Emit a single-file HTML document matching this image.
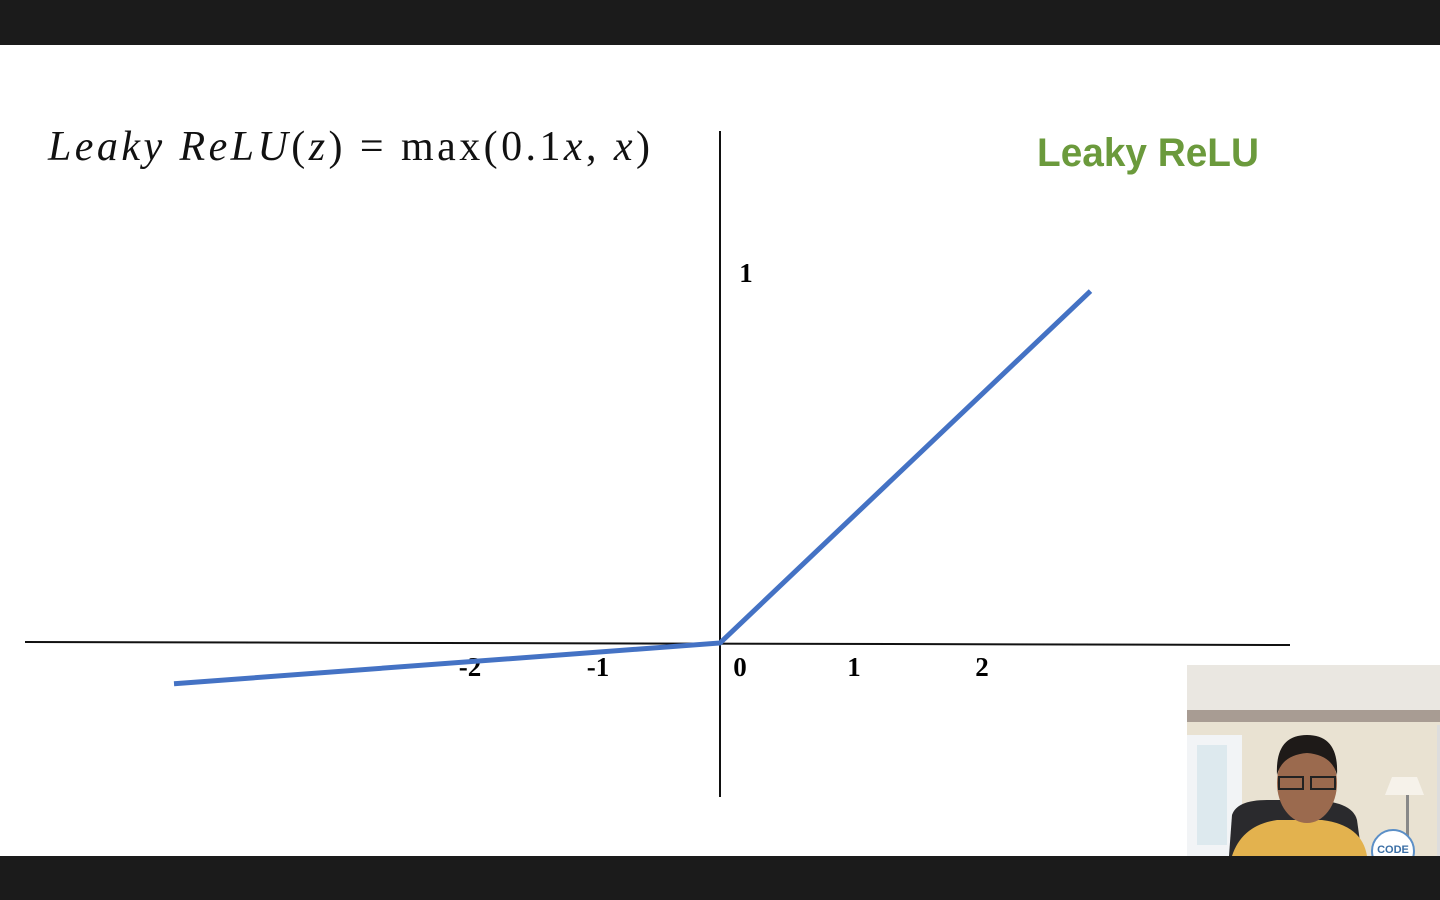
<!DOCTYPE html>
<html><head><meta charset="utf-8"><style>
html,body{margin:0;padding:0;width:1440px;height:900px;overflow:hidden;background:#fff;}
.bar{position:absolute;left:0;width:1440px;background:#1b1b1b;}
</style></head><body>
<div class="bar" style="top:0;height:45px"></div>
<div class="bar" style="top:856px;height:44px"></div>
<svg id="chart" width="1440" height="900" style="position:absolute;left:0;top:0">
  <text x="48" y="160" font-family="Liberation Serif, serif" font-size="42" fill="#111" textLength="602" lengthAdjust="spacing"><tspan font-style="italic">Leaky ReLU</tspan>(<tspan font-style="italic">z</tspan>) = max(0.1<tspan font-style="italic">x</tspan>, <tspan font-style="italic">x</tspan>)</text>
  <text x="1037" y="166" font-family="Liberation Sans, sans-serif" font-size="40" font-weight="bold" fill="#6b9a3c" textLength="222" lengthAdjust="spacingAndGlyphs">Leaky ReLU</text>
  <line x1="25" y1="642" x2="1290" y2="645" stroke="#111" stroke-width="2"/>
  <line x1="720" y1="131" x2="720" y2="797" stroke="#111" stroke-width="2"/>
  <g id="ticks"></g>
  <polyline id="series" fill="none" stroke="#4472c4" stroke-width="5"/>
</svg>
<svg width="253" height="191" style="position:absolute;left:1187px;top:665px">
  <rect width="253" height="191" fill="#e9e2d2"/>
  <rect width="253" height="45" fill="#eae7e1"/>
  <rect y="45" width="253" height="12" fill="#a89c93"/>
  <rect x="0" y="70" width="55" height="121" fill="#f2f4f6"/>
  <rect x="10" y="80" width="30" height="100" fill="#dde9ee"/>
  <rect x="250" y="60" width="3" height="131" fill="#ddd"/>
  <path d="M205 112 L230 112 L237 130 L198 130 Z" fill="#f6f2ea"/>
  <rect x="219" y="130" width="3" height="61" fill="#888"/>
  <path d="M45 150 Q50 135 80 135 L120 135 Q165 135 170 155 L175 191 L42 191 Z" fill="#2a2a2d"/>
  <path d="M45 191 Q55 160 90 155 L135 155 Q175 160 180 191 Z" fill="#e3b24e"/>
  <ellipse cx="120" cy="118" rx="30" ry="40" fill="#9b6a4e"/>
  <path d="M90 110 Q88 70 120 70 Q152 70 150 110 Q145 90 120 88 Q95 90 90 110Z" fill="#1e1a18"/>
  <rect x="92" y="112" width="24" height="12" fill="none" stroke="#222" stroke-width="2"/>
  <rect x="124" y="112" width="24" height="12" fill="none" stroke="#222" stroke-width="2"/>
  <circle cx="206" cy="186" r="21" fill="#fff" stroke="#5b8fc7" stroke-width="2"/>
  <text x="206" y="188" font-family="Liberation Sans, sans-serif" font-size="11" font-weight="bold" fill="#3a6ea5" text-anchor="middle">CODE</text>
</svg>
<script>
const xTicks = [-2, -1, 0, 1, 2];
const yTicks = [1];
const xs = [-4.2, 0, 2.85];
const ys = [-0.33, 0, 2.85];
function sx(v){ return 720 + v * 130; }
function sy(v){ return 643 - v * 123.5; }
const NS = 'http://www.w3.org/2000/svg';
const tg = document.getElementById('ticks');
xTicks.forEach(t => {
  const el = document.createElementNS(NS, 'text');
  
  
  el.setAttribute('x', t === 0 ? 740 : sx(t) + 6 - t * 2);
  el.setAttribute('y', 676);
  el.setAttribute('text-anchor', 'middle');
  el.setAttribute('font-family', 'Liberation Serif, serif');
  el.setAttribute('font-weight', 'bold');
  el.setAttribute('font-size', '27');
  el.textContent = String(t);
  tg.appendChild(el);
});
yTicks.forEach(t => {
  const el = document.createElementNS(NS, 'text');
  
  
  el.setAttribute('x', 746);
  el.setAttribute('y', 282);
  el.setAttribute('text-anchor', 'middle');
  el.setAttribute('font-family', 'Liberation Serif, serif');
  el.setAttribute('font-weight', 'bold');
  el.setAttribute('font-size', '27');
  el.textContent = String(t);
  tg.appendChild(el);
});
document.getElementById('series').setAttribute('points', xs.map((x,i)=>sx(x)+','+sy(ys[i])).join(' '));
</script>
</body></html>
